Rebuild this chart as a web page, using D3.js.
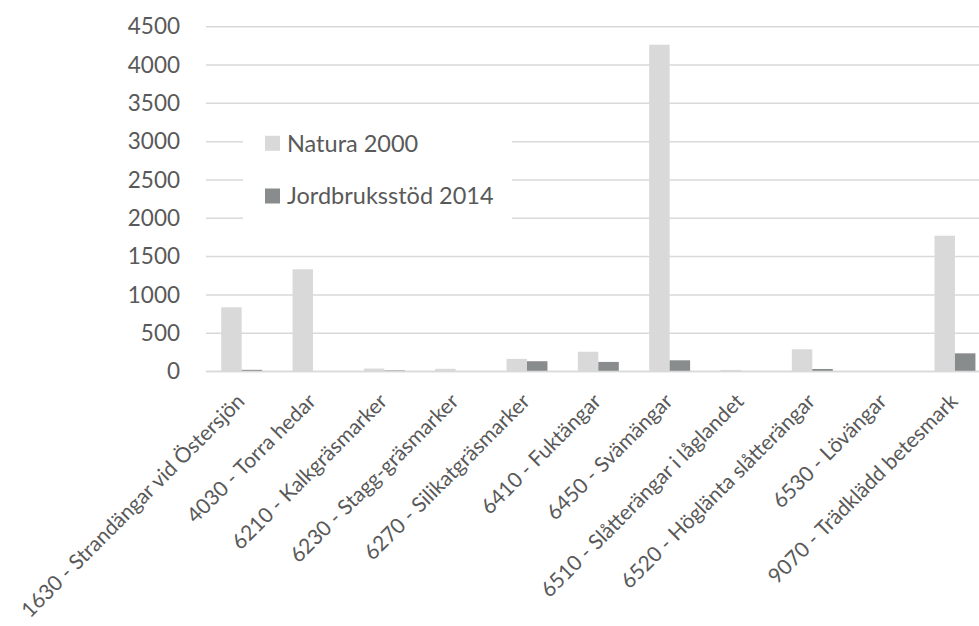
<!DOCTYPE html>
<html><head><meta charset="utf-8">
<script src="https://cdn.jsdelivr.net/npm/d3@7"></script>
<style>body{margin:0;background:#fff;} svg{display:block;}</style>
</head><body>
<svg id="c" width="979" height="626"></svg>
<script>
const categories = [
  "1630 - Strandängar vid Östersjön",
  "4030 - Torra hedar",
  "6210 - Kalkgräsmarker",
  "6230 - Stagg-gräsmarker",
  "6270 - Silikatgräsmarker",
  "6410 - Fuktängar",
  "6450 - Svämängar",
  "6510 - Slåtterängar i låglandet",
  "6520 - Höglänta slåtterängar",
  "6530 - Lövängar",
  "9070 - Trädklädd betesmark"
];
const seriesNames = ["Natura 2000", "Jordbruksstöd 2014"];
const natura2000 = [838, 1334, 38, 35, 165, 258, 4265, 20, 290, 2, 1772];
const jordbruksstod2014 = [22, 3, 14, 6, 134, 125, 146, 6, 33, 1, 237];
const yTicks = [0, 500, 1000, 1500, 2000, 2500, 3000, 3500, 4000, 4500];
const colors = ["#d9d9d9", "#898c8c"];

(function () {
const svg = d3.select("#c");
const font = "Lato, 'Open Sans', sans-serif";
const textColor = "#595959";
const pL = 206, pR = 206 + 11 * 71.33, pT = 26.7, pB = 371.5;

const x = d3.scaleBand().domain(categories).range([pL, pR]).paddingInner(0.426).paddingOuter(0.213);
const xs = d3.scaleBand().domain(seriesNames).range([0, x.bandwidth()]);
const y = d3.scaleLinear().domain([0, 4500]).range([pB, pT]);

// gridlines
svg.append("g").selectAll("line").data(yTicks).join("line")
  .attr("x1", pL).attr("x2", 979)
  .attr("y1", d => y(d)).attr("y2", d => y(d))
  .attr("stroke", "#d9d9d9").attr("stroke-width", 1.5);

// y axis labels
const yAxis = svg.append("g").attr("transform", `translate(${pL},0)`)
  .call(d3.axisLeft(y).tickValues(yTicks).tickFormat(d3.format("d")).tickSize(0).tickPadding(26));
yAxis.select(".domain").remove();
yAxis.selectAll("text").attr("font-family", font).attr("font-size", 22.5).attr("fill", textColor);

// bars
const data = categories.map((c, i) => ({c, vals: [natura2000[i], jordbruksstod2014[i]]}));
const g = svg.append("g");
g.selectAll("g").data(data).join("g")
  .attr("transform", d => `translate(${x(d.c)},0)`)
  .selectAll("rect").data(d => d.vals.map((v, j) => ({v, s: seriesNames[j], j})))
  .join("rect")
  .attr("x", d => xs(d.s)).attr("width", xs.bandwidth())
  .attr("y", d => y(d.v)).attr("height", d => y(0) - y(d.v))
  .attr("fill", d => colors[d.j]);

// x axis line
svg.append("line").attr("x1", pL).attr("x2", 979).attr("y1", pB).attr("y2", pB)
  .attr("stroke", "#d9d9d9").attr("stroke-width", 1.5);

// x labels
const xAxis = svg.append("g").attr("transform", `translate(0,${pB})`)
  .call(d3.axisBottom(x).tickSize(0).tickPadding(0));
xAxis.select(".domain").remove();
xAxis.selectAll("text")
  .attr("font-family", font).attr("font-size", 21).attr("fill", textColor)
  .attr("text-anchor", "end").attr("dy", "0.35em")
  .attr("transform", "translate(-1,26) rotate(-45)");

// legend
const lg = svg.append("g");
lg.append("rect").attr("x", 243).attr("y", 112).attr("width", 269).attr("height", 126).attr("fill", "#fff");
const items = lg.selectAll("g").data(seriesNames).join("g")
  .attr("transform", (d, i) => `translate(265,${143.3 + i * 52.7})`);
items.append("rect").attr("x", 0).attr("y", -7.5).attr("width", 15).attr("height", 15).attr("fill", (d, i) => colors[i]);
items.append("text").attr("x", 22).attr("dy", "0.35em").text(d => d)
  .attr("font-family", font).attr("font-size", 23.5).attr("fill", textColor);
})();
</script>
</body></html>
